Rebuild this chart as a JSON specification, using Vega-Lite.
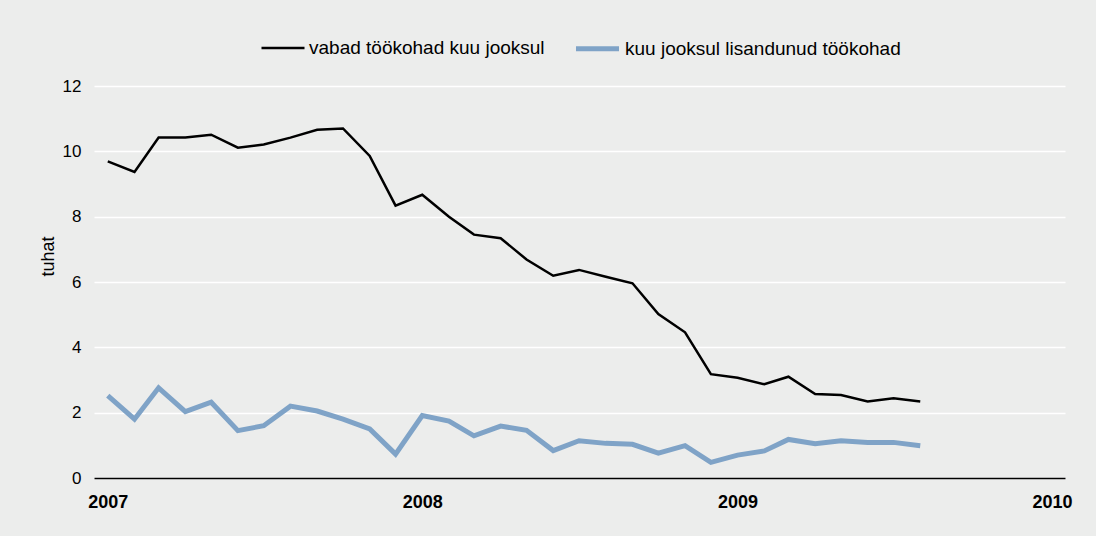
{
  "$schema": "https://vega.github.io/schema/vega-lite/v6.json",
  "autosize": {"type": "none"},
  "width": 971,
  "height": 392,
  "padding": {"left": 94, "top": 86, "right": 31, "bottom": 58},
  "background": "#ecedec",
  "config": {
    "view": {"stroke": null},
    "font": "Liberation Sans",
    "axis": {"labelFont": "Liberation Sans", "titleFont": "Liberation Sans"},
    "legend": {"labelFont": "Liberation Sans"}
  },
  "data": {
    "values": [
      {"month": "2007-01-01", "series": "vabad töökohad kuu jooksul", "value": 9.69},
      {"month": "2007-02-01", "series": "vabad töökohad kuu jooksul", "value": 9.37},
      {"month": "2007-03-01", "series": "vabad töökohad kuu jooksul", "value": 10.42},
      {"month": "2007-04-01", "series": "vabad töökohad kuu jooksul", "value": 10.42},
      {"month": "2007-05-01", "series": "vabad töökohad kuu jooksul", "value": 10.51},
      {"month": "2007-06-01", "series": "vabad töökohad kuu jooksul", "value": 10.11},
      {"month": "2007-07-01", "series": "vabad töökohad kuu jooksul", "value": 10.21},
      {"month": "2007-08-01", "series": "vabad töökohad kuu jooksul", "value": 10.42},
      {"month": "2007-09-01", "series": "vabad töökohad kuu jooksul", "value": 10.66},
      {"month": "2007-10-01", "series": "vabad töökohad kuu jooksul", "value": 10.70},
      {"month": "2007-11-01", "series": "vabad töökohad kuu jooksul", "value": 9.86},
      {"month": "2007-12-01", "series": "vabad töökohad kuu jooksul", "value": 8.34},
      {"month": "2008-01-01", "series": "vabad töökohad kuu jooksul", "value": 8.67},
      {"month": "2008-02-01", "series": "vabad töökohad kuu jooksul", "value": 8.00},
      {"month": "2008-03-01", "series": "vabad töökohad kuu jooksul", "value": 7.45},
      {"month": "2008-04-01", "series": "vabad töökohad kuu jooksul", "value": 7.34},
      {"month": "2008-05-01", "series": "vabad töökohad kuu jooksul", "value": 6.69},
      {"month": "2008-06-01", "series": "vabad töökohad kuu jooksul", "value": 6.19},
      {"month": "2008-07-01", "series": "vabad töökohad kuu jooksul", "value": 6.37},
      {"month": "2008-08-01", "series": "vabad töökohad kuu jooksul", "value": 6.16},
      {"month": "2008-09-01", "series": "vabad töökohad kuu jooksul", "value": 5.96},
      {"month": "2008-10-01", "series": "vabad töökohad kuu jooksul", "value": 5.02},
      {"month": "2008-11-01", "series": "vabad töökohad kuu jooksul", "value": 4.46},
      {"month": "2008-12-01", "series": "vabad töökohad kuu jooksul", "value": 3.18},
      {"month": "2009-01-01", "series": "vabad töökohad kuu jooksul", "value": 3.07},
      {"month": "2009-02-01", "series": "vabad töökohad kuu jooksul", "value": 2.87},
      {"month": "2009-03-01", "series": "vabad töökohad kuu jooksul", "value": 3.10},
      {"month": "2009-04-01", "series": "vabad töökohad kuu jooksul", "value": 2.57},
      {"month": "2009-05-01", "series": "vabad töökohad kuu jooksul", "value": 2.54},
      {"month": "2009-06-01", "series": "vabad töökohad kuu jooksul", "value": 2.34},
      {"month": "2009-07-01", "series": "vabad töökohad kuu jooksul", "value": 2.44},
      {"month": "2009-08-01", "series": "vabad töökohad kuu jooksul", "value": 2.34},
      {"month": "2007-01-01", "series": "kuu jooksul lisandunud töökohad", "value": 2.52},
      {"month": "2007-02-01", "series": "kuu jooksul lisandunud töökohad", "value": 1.80},
      {"month": "2007-03-01", "series": "kuu jooksul lisandunud töökohad", "value": 2.76},
      {"month": "2007-04-01", "series": "kuu jooksul lisandunud töökohad", "value": 2.03},
      {"month": "2007-05-01", "series": "kuu jooksul lisandunud töökohad", "value": 2.32},
      {"month": "2007-06-01", "series": "kuu jooksul lisandunud töökohad", "value": 1.45},
      {"month": "2007-07-01", "series": "kuu jooksul lisandunud töökohad", "value": 1.60},
      {"month": "2007-08-01", "series": "kuu jooksul lisandunud töökohad", "value": 2.20},
      {"month": "2007-09-01", "series": "kuu jooksul lisandunud töökohad", "value": 2.05},
      {"month": "2007-10-01", "series": "kuu jooksul lisandunud töökohad", "value": 1.80},
      {"month": "2007-11-01", "series": "kuu jooksul lisandunud töökohad", "value": 1.50},
      {"month": "2007-12-01", "series": "kuu jooksul lisandunud töökohad", "value": 0.73},
      {"month": "2008-01-01", "series": "kuu jooksul lisandunud töökohad", "value": 1.91},
      {"month": "2008-02-01", "series": "kuu jooksul lisandunud töökohad", "value": 1.74},
      {"month": "2008-03-01", "series": "kuu jooksul lisandunud töökohad", "value": 1.29},
      {"month": "2008-04-01", "series": "kuu jooksul lisandunud töökohad", "value": 1.59},
      {"month": "2008-05-01", "series": "kuu jooksul lisandunud töökohad", "value": 1.46},
      {"month": "2008-06-01", "series": "kuu jooksul lisandunud töökohad", "value": 0.84},
      {"month": "2008-07-01", "series": "kuu jooksul lisandunud töökohad", "value": 1.14},
      {"month": "2008-08-01", "series": "kuu jooksul lisandunud töökohad", "value": 1.06},
      {"month": "2008-09-01", "series": "kuu jooksul lisandunud töökohad", "value": 1.03},
      {"month": "2008-10-01", "series": "kuu jooksul lisandunud töökohad", "value": 0.76},
      {"month": "2008-11-01", "series": "kuu jooksul lisandunud töökohad", "value": 0.99},
      {"month": "2008-12-01", "series": "kuu jooksul lisandunud töökohad", "value": 0.48},
      {"month": "2009-01-01", "series": "kuu jooksul lisandunud töökohad", "value": 0.70},
      {"month": "2009-02-01", "series": "kuu jooksul lisandunud töökohad", "value": 0.83},
      {"month": "2009-03-01", "series": "kuu jooksul lisandunud töökohad", "value": 1.18},
      {"month": "2009-04-01", "series": "kuu jooksul lisandunud töökohad", "value": 1.05},
      {"month": "2009-05-01", "series": "kuu jooksul lisandunud töökohad", "value": 1.14},
      {"month": "2009-06-01", "series": "kuu jooksul lisandunud töökohad", "value": 1.09},
      {"month": "2009-07-01", "series": "kuu jooksul lisandunud töökohad", "value": 1.09},
      {"month": "2009-08-01", "series": "kuu jooksul lisandunud töökohad", "value": 0.99}
    ]
  },
  "mark": {"type": "line", "strokeJoin": "miter", "strokeCap": "butt"},
  "encoding": {
    "x": {
      "field": "month",
      "type": "temporal",
      "scale": {
        "type": "utc",
        "domain": [
          {"year": 2006, "month": 12, "date": 16, "utc": true},
          {"year": 2010, "month": 1, "date": 16, "utc": true}
        ]
      },
      "axis": {
        "title": null,
        "values": [
          {"year": 2007, "month": 1, "date": 1, "utc": true},
          {"year": 2008, "month": 1, "date": 1, "utc": true},
          {"year": 2009, "month": 1, "date": 1, "utc": true},
          {"year": 2010, "month": 1, "date": 1, "utc": true}
        ],
        "format": "%Y",
        "formatType": "utc",
        "grid": false,
        "ticks": false,
        "domain": true,
        "domainColor": "#000000",
        "domainWidth": 1.5,
        "labelFontWeight": "bold",
        "labelFontSize": 18,
        "labelColor": "#000000",
        "labelPadding": 15,
        "labelFlush": false,
        "labelOverlap": false
      }
    },
    "y": {
      "field": "value",
      "type": "quantitative",
      "scale": {"domain": [0, 12], "nice": false},
      "axis": {
        "title": "tuhat",
        "titleFontWeight": "normal",
        "titleFontSize": 18,
        "titleColor": "#000000",
        "titlePadding": 5,
        "titleY": 170,
        "values": [0, 2, 4, 6, 8, 10, 12],
        "domain": false,
        "ticks": false,
        "grid": true,
        "gridColor": "#ffffff",
        "gridWidth": 1.5,
        "labelFontSize": 17,
        "labelColor": "#000000",
        "labelPadding": 13
      }
    },
    "color": {
      "field": "series",
      "type": "nominal",
      "scale": {
        "domain": ["vabad töökohad kuu jooksul", "kuu jooksul lisandunud töökohad"],
        "range": ["#000000", "#7fa3c7"]
      },
      "legend": {
        "title": null,
        "orient": "none",
        "direction": "horizontal",
        "legendX": 166,
        "legendY": -62,
        "symbolType": "stroke",
        "symbolSize": 1850,
        "labelFontSize": 19,
        "labelLimit": 500,
        "labelColor": "#000000",
        "labelOffset": 3,
        "columnPadding": 20
      }
    },
    "strokeWidth": {
      "field": "series",
      "type": "nominal",
      "scale": {
        "domain": ["vabad töökohad kuu jooksul", "kuu jooksul lisandunud töökohad"],
        "range": [2.5, 5]
      },
      "legend": null
    }
  }
}
